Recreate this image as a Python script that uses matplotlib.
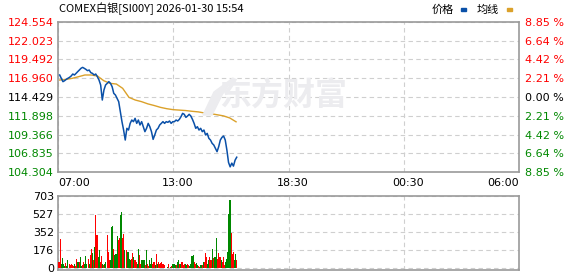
import numpy as np
import matplotlib
matplotlib.use("Agg")
from matplotlib import pyplot as plt
from matplotlib.patches import Polygon

plt.rcParams['font.family'] = ['DejaVu Sans', 'Noto Sans CJK SC']

# ---- data ----
title = "COMEX白银[SI00Y] 2026-01-30 15:54"
prev_close = 114.429
price_ticks = [124.554, 122.023, 119.492, 116.960, 114.429, 111.898, 109.366, 106.835, 104.304]
pct_labels = ["8.85 %", "6.64 %", "4.42 %", "2.21 %", "0.00 %", "2.21 %", "4.42 %", "6.64 %", "8.85 %"]
time_labels = ["07:00", "13:00", "18:30", "00:30", "06:00"]
vol_ticks = [0, 176, 352, 527, 703]

price = [117.40, 116.95, 116.50, 116.63, 116.81, 116.95, 117.08, 117.26, 117.53, 117.40,
         117.62, 117.85, 118.07, 118.30, 118.43, 118.30, 118.16, 117.98, 118.07, 117.71,
         117.62, 117.40, 117.53, 117.17, 116.72, 116.05, 114.02, 115.37, 116.05, 116.27,
         116.50, 116.27, 115.82, 114.92, 114.70, 114.25, 113.80, 112.45, 111.10, 109.97,
         108.62, 110.20, 109.97, 110.87, 111.32, 111.10, 111.55, 110.87, 111.32, 110.65,
         111.10, 110.42, 109.75, 110.20, 110.87, 110.42, 109.75, 108.71, 109.30, 109.97,
         110.20, 110.65, 110.87, 111.10, 110.87, 111.10, 111.01, 111.19, 110.87, 111.10,
         111.10, 111.32, 111.19, 111.41, 111.77, 112.22, 112.09, 111.68, 111.86, 112.09,
         111.86, 111.41, 110.87, 110.20, 110.42, 109.97, 110.20, 109.75, 109.97, 109.30,
         109.52, 108.85, 108.62, 108.17, 107.95, 107.50, 107.05, 107.72, 108.62, 108.98,
         109.16, 108.62, 107.27, 105.60, 105.00, 105.50, 105.10, 105.90, 106.30]

avg = [116.72, 116.81, 116.95, 117.17, 117.40, 117.40, 117.26, 116.63, 116.27, 116.18,
       115.60, 114.38, 114.02, 113.80, 113.50, 113.28, 113.03, 112.85, 112.72, 112.66,
       112.60, 112.50, 112.42, 112.27, 112.18, 112.03, 111.88, 111.60, 111.08]

vol = [62, 280, 45, 104, 39, 20, 55, 20, 78, 39, 29, 39, 36, 26, 39, 20, 94, 62, 62, 107,
       20, 29, 62, 45, 117, 45, 88, 45, 127, 192, 150, 78, 202, 517, 322, 110, 182, 62, 117, 45,
       36, 45, 62, 322, 160, 78, 78, 404, 410, 192, 127, 143, 312, 273, 290, 517, 550, 290, 338, 176,
       182, 160, 160, 94, 78, 94, 150, 110, 85, 62, 45, 192, 133, 45, 85, 85, 78, 36, 182, 46,
       20, 78, 46, 104, 46, 62, 29, 143, 46, 62, 46, 52, 62, 46, 29, 7, 7, 13, 46, 7,
       13, 20, 46, 39, 29, 29, 62, 78, 46, 46, 62, 29, 46, 39, 29, 46, 29, 20, 46, 124,
       130, 62, 39, 52, 29, 20, 13, 29, 36, 62, 62, 150, 110, 46, 85, 110, 78, 192, 104, 110,
       110, 290, 94, 150, 110, 78, 62, 110, 29, 62, 94, 160, 527, 664, 345, 143, 160, 78, 143, 78]
# r = down bar (red), g = up bar (green), ten per group
vol_side = ("rrggggrggr" "rrrrgrrgrg" "grrgggrgrr" "grgrrggrrg" "rggrrrgggr" "gggrrggrrg"
            "rggggrrgrr" "ggrrgggrgr" "rgggrrgrgr" "rrrrrrrgrr" "grgggrggrg" "rrrggrrggg"
            "grrggrrgrg" "rrrggrrgrg" "ggrrrgrrrg" "ggggrrrggr")

RED = "#ff0000"
GREEN = "#008800"
BLUE = "#0a50a8"
ORANGE = "#dba12a"
FRAME = "#9a9a9a"
GRID = "#cfcfcf"

fig = plt.figure(figsize=(5.78, 2.76), dpi=100)
ax = fig.add_axes([58/578, 1 - 172/276, 461/578, 150/276])
axv = fig.add_axes([58/578, 1 - 270/276, 461/578, 74/276])

total = 1380  # minutes 07:00 -> 06:00
t_price = np.linspace(5, 535, len(price))
t_avg = np.linspace(5, 533, len(avg))

# watermark
fig.text(283/578, 1 - 97/276, "东方财富", fontsize=23, fontweight="bold", color="#ececef",
         family=["Noto Sans CJK SC"], ha="center", va="center", zorder=0)
leaf = Polygon([(203/578, 1 - 115/276), (214/578, 1 - 92/276), (233/578, 1 - 78/276),
                (222/578, 1 - 95/276), (212/578, 1 - 115/276)],
               closed=True, transform=fig.transFigure, color="#ececef", zorder=0)
fig.patches.append(leaf)

ax.plot(t_avg, avg, color=ORANGE, lw=1.0, zorder=3)
ax.plot(t_price, price, color=BLUE, lw=1.1, zorder=4)
ax.set_xlim(0, total)
ax.set_ylim(price_ticks[-1], price_ticks[0])
ax.set_yticks(price_ticks)
ax.set_yticklabels([f"{v:.3f}" for v in price_ticks], fontsize=8)
for lab, v in zip(ax.get_yticklabels(), price_ticks):
    lab.set_color(RED if v > prev_close + 0.01 else (GREEN if v < prev_close - 0.01 else "black"))
quarters = np.linspace(0, total, 5)
ax.set_xticks(quarters)
ax.set_xticklabels([])
ax.grid(True, color=GRID, ls=(0, (4, 3)), lw=0.8)
ax.tick_params(length=0, pad=3)
ax.set_facecolor("none")
for s in ax.spines.values():
    s.set_color(FRAME)
    s.set_linewidth(1.2)

# right percent labels
ax2 = ax.twinx()
ax2.set_ylim(ax.get_ylim())
ax2.set_yticks(price_ticks)
ax2.set_yticklabels(pct_labels, fontsize=8)
for lab, v in zip(ax2.get_yticklabels(), price_ticks):
    lab.set_color(RED if v > prev_close + 0.01 else (GREEN if v < prev_close - 0.01 else "black"))
ax2.tick_params(length=0, pad=4)
for s in ax2.spines.values():
    s.set_visible(False)

# time labels
aligns = ["left", "center", "center", "center", "right"]
for q, txt, ha in zip(quarters, time_labels, aligns):
    ax.text(q + (13 if ha == "center" else 0), -0.04, txt, transform=ax.get_xaxis_transform(),
            ha=ha, va="top", fontsize=8, color="black")

# volume bars
t_vol = np.linspace(3, 535, len(vol))
colors = [GREEN if c == "g" else RED for c in vol_side]
axv.bar(t_vol, vol, width=3.3, color=colors, lw=0, zorder=3)
axv.set_xlim(0, total)
axv.set_ylim(-17, 703)
axv.set_yticks(vol_ticks)
axv.set_yticklabels([str(v) for v in vol_ticks], fontsize=8)
axv.set_xticks(quarters)
axv.set_xticklabels([])
axv.grid(True, color=GRID, ls=(0, (4, 3)), lw=0.8)
axv.tick_params(length=0, pad=3)
for s in axv.spines.values():
    s.set_color(FRAME)
    s.set_linewidth(1.2)

# title and legend
fig.text(59/578, 1 - 9/276, title, fontsize=8, family=["Noto Sans CJK SC"],
         ha="left", va="center")
fig.text(432/578, 1 - 10/276, "价格", fontsize=8, family=["Noto Sans CJK SC"], ha="left", va="center")
fig.patches.append(plt.Rectangle((461/578, 1 - 11/276), 5/578, 3/276, color=BLUE,
                                 transform=fig.transFigure, figure=fig))
fig.text(477/578, 1 - 10/276, "均线", fontsize=8, family=["Noto Sans CJK SC"], ha="left", va="center")
fig.patches.append(plt.Rectangle((507/578, 1 - 11/276), 5/578, 3/276, color=ORANGE,
                                 transform=fig.transFigure, figure=fig))

fig.savefig("out.png", dpi=100)
